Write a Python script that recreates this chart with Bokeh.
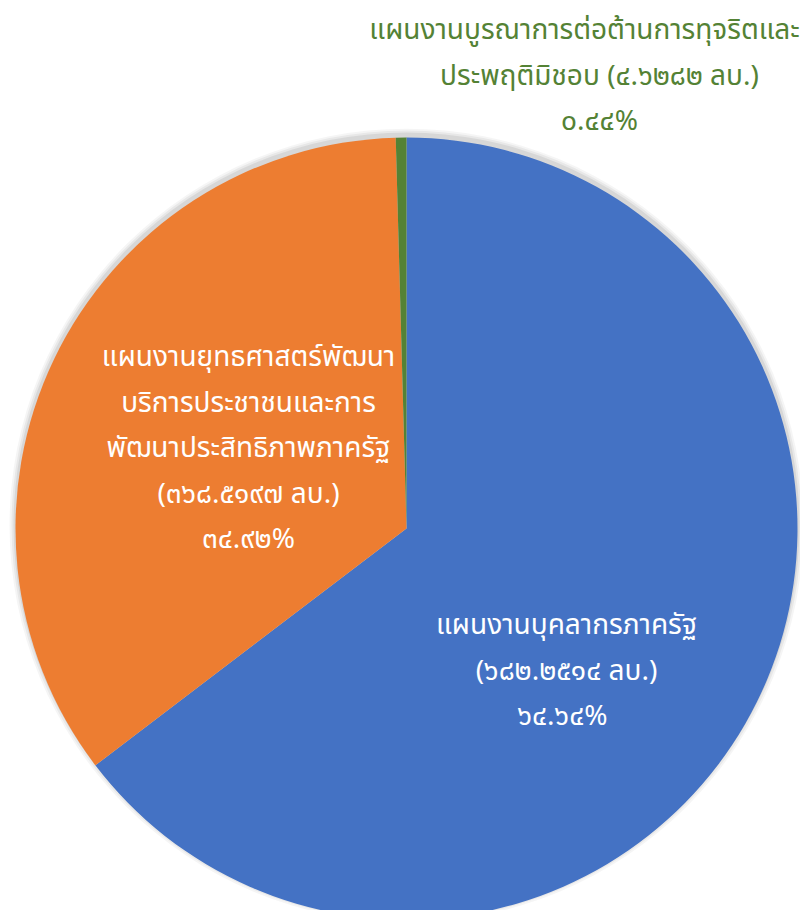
import math
from bokeh.plotting import figure
from bokeh.models import Range1d, ColumnDataSource
from bokeh.core.properties import value
from bokeh.embed import file_html
from bokeh.resources import INLINE

# Data
plans = ["แผนงานบุคลากรภาครัฐ",
         "แผนงานยุทธศาสตร์พัฒนาบริการประชาชนและการพัฒนาประสิทธิภาพภาครัฐ",
         "แผนงานบูรณาการต่อต้านการทุจริตและประพฤติมิชอบ"]
amounts = [682.2514, 368.5197, 4.6282]  # ล้านบาท
percent_labels = ["๖๔.๖๔%", "๓๔.๙๒%", "๐.๔๔%"]
slice_colors = ["#4472C4", "#ED7D31", "#548235"]

label_lines = [
    ["แผนงานบุคลากรภาครัฐ", "(๖๘๒.๒๕๑๔ ลบ.)", "๖๔.๖๔%"],
    ["แผนงานยุทธศาสตร์พัฒนา", "บริการประชาชนและการ", "พัฒนาประสิทธิภาพภาครัฐ",
     "(๓๖๘.๕๑๙๗ ลบ.)", "๓๔.๙๒%"],
    ["แผนงานบูรณาการต่อต้านการทุจริตและ", "ประพฤติมิชอบ (๔.๖๒๘๒ ลบ.)", "๐.๔๔%"],
]
label_colors = ["white", "white", "#548235"]

W, H = 800, 910
p = figure(width=W, height=H, x_range=Range1d(0, W), y_range=Range1d(0, H),
           output_backend="svg", toolbar_location=None, min_border=0)
p.axis.visible = False
p.grid.visible = False
p.outline_line_color = None
p.background_fill_color = "white"

cx, cy, r = 406, H - 528, 391
total = sum(amounts)
starts, ends = [], []
acc = 0.0
for a in amounts:
    s = math.pi / 2 - 2 * math.pi * acc / total
    acc += a
    e = math.pi / 2 - 2 * math.pi * acc / total
    starts.append(s)
    ends.append(e)

# soft shadow
for dr, al in [(6, 0.04), (4, 0.05), (2, 0.07)]:
    p.circle(x=[cx], y=[cy + 3], radius=r + dr, fill_color="#000000",
             fill_alpha=al, line_color=None)

src = ColumnDataSource(dict(x=[cx] * 3, y=[cy] * 3, start=starts, end=ends,
                            color=slice_colors))
p.wedge(x="x", y="y", radius=r, start_angle="start", end_angle="end",
        direction="clock", fill_color="color", line_color=None, source=src)

# label positions (page pixel centers); per-line x centres
anchors_x = [[566, 566, 562], [248, 248, 248, 248, 248], [584, 599, 599]]
anchors_y = [625, 357, 30]
spacing = 45.5
font = "Noto Sans Thai SemiBold, Noto Sans Thai Medium, Noto Sans Thai, sans-serif"
for lines, xs, py, col in zip(label_lines, anchors_x, anchors_y, label_colors):
    ys = [H - (py + i * spacing) for i in range(len(lines))]
    p.text(x=xs, y=ys, text=lines, text_align="center", text_baseline="middle",
           text_color=col, text_font_size="28px", text_font=value(font),
           text_font_style="normal")

open("out.html", "w").write(file_html(p, INLINE))
